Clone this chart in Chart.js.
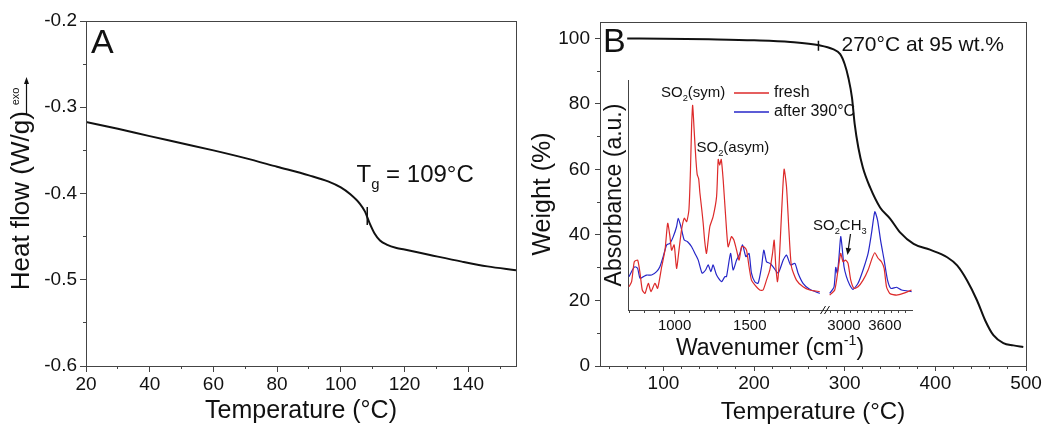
<!DOCTYPE html>
<html>
<head>
<meta charset="utf-8">
<title>DSC / TGA / FTIR</title>
<script src="https://cdn.jsdelivr.net/npm/chart.js@4.4.1/dist/chart.umd.min.js"></script>
<style>
  body { margin: 0; background: #fff; }
  #wrap { position: relative; width: 1047px; height: 427px; overflow: hidden; background: #fff; }
  canvas { position: absolute; }
  #dsc { left: 0; top: 0; }
  #tga { left: 520px; top: 0; }
  #ftir { left: 590px; top: 60px; }
</style>
</head>
<body>
<div id="wrap">
  <canvas id="dsc" width="525" height="427"></canvas>
  <canvas id="tga" width="527" height="427"></canvas>
  <canvas id="ftir" width="330" height="310"></canvas>
</div>
<script>
const FONT = 'Arial, "Liberation Sans", sans-serif';
const AXIS = '#444';
const INK = '#111';
const RED = '#dd2a2a';
const BLUE = '#2626c8';

// Panel A - DSC heat flow
const dscTemp = [20, 30, 40, 50, 60, 70, 80, 90, 96, 100, 103, 106, 107.6, 109, 110.7, 112.3, 114.4, 117.5, 120, 128, 138, 146, 155];
const dscFlow = [-0.317, -0.325, -0.3335, -0.3417, -0.350, -0.359, -0.369, -0.379, -0.386, -0.393, -0.401, -0.412, -0.421, -0.434, -0.447, -0.4545, -0.4592, -0.4632, -0.465, -0.4713, -0.479, -0.4845, -0.489];
const tgMarkTemp = [108.3, 108.3];
const tgMarkFlow = [-0.4157, -0.4365];
const dscXTicks = [20, 40, 60, 80, 100, 120, 140];
const dscXMinor = [30, 50, 70, 90, 110, 130, 150];
const dscYTicks = [-0.6, -0.5, -0.4, -0.3, -0.2];
const dscYMinor = [-0.55, -0.45, -0.35, -0.25];

// Panel B - TGA weight loss
const tgaTemp = [60, 100, 150, 200, 240, 272, 287, 295, 300, 304, 308, 311, 315, 320, 328, 339, 350, 361, 376, 394, 413, 424, 435, 446, 455, 464, 475, 486, 497];
const tgaWeight = [100, 99.9, 99.7, 99.4, 98.9, 97.9, 96.7, 95.2, 92.1, 88.0, 81.9, 73.8, 66.7, 60.6, 54.5, 48.4, 45.0, 40.8, 37.3, 35.5, 33.2, 30.7, 26.1, 20.0, 13.9, 9.4, 7.0, 6.3, 5.8];
const onsetMarkTemp = [271, 271];
const onsetMarkWeight = [99.3, 96.2];
const tgaXTicks = [100, 200, 300, 400, 500];
const tgaXMinor = [40, 60, 80, 120, 140, 160, 180, 220, 240, 260, 280, 320, 340, 360, 380, 420, 440, 460, 480];
const tgaYTicks = [0, 20, 40, 60, 80, 100];
const tgaYMinor = [10, 30, 50, 70, 90];

// Inset - FTIR spectra (two wavenumber windows)
const freshLowWn = [697, 714, 732, 754, 770, 785, 803, 825, 843, 869, 887, 914, 936, 954, 969, 980, 997, 1013, 1029, 1046, 1064, 1080, 1095, 1105, 1113, 1120, 1130, 1141, 1150, 1160, 1168, 1180, 1190, 1200, 1212, 1234, 1256, 1279, 1290, 1300, 1310, 1323, 1341, 1356, 1378, 1394, 1412, 1429, 1445, 1460, 1478, 1495, 1511, 1533, 1566, 1588, 1611, 1633, 1651, 1662, 1673, 1684, 1695, 1711, 1728, 1744, 1760, 1777, 1810, 1854, 1898, 1965];
const freshLowAbs = [10.1, 12.3, 21, 21.7, 16, 8.7, 7.2, 11.6, 8.0, 11.6, 9.4, 18.8, 26, 37.7, 31.9, 26, 28.3, 18.1, 26, 34.8, 39.9, 38.4, 43.5, 60, 80, 89, 78, 66, 59, 57, 51, 44, 37.7, 30, 24.6, 36.2, 40.6, 49.3, 65.5, 63, 65.5, 56.5, 39, 27.5, 31.9, 30.4, 26, 21.7, 27.5, 27.5, 26, 18.8, 13, 10.9, 8.7, 8.7, 13, 17.4, 24.6, 30.4, 18.8, 12.3, 20.3, 42, 61.2, 53.6, 34.8, 18.8, 13, 10.1, 8.7, 8.0];
const afterLowWn = [697, 719, 736, 754, 770, 792, 814, 847, 880, 902, 924, 947, 969, 991, 1013, 1024, 1042, 1064, 1086, 1113, 1135, 1157, 1183, 1206, 1223, 1241, 1256, 1279, 1312, 1334, 1345, 1372, 1389, 1412, 1434, 1452, 1474, 1495, 1511, 1533, 1555, 1578, 1593, 1611, 1633, 1655, 1688, 1722, 1744, 1771, 1800, 1821, 1854, 1898, 1965];
const afterLowAbs = [14.5, 17.4, 18.8, 18.1, 13.8, 14.5, 15.2, 15.2, 16.7, 18.8, 23.2, 28.3, 29, 31.9, 36.2, 39.9, 36.2, 30.4, 29.7, 27.5, 24.6, 21.7, 16, 17.4, 19.6, 16.7, 19.6, 15.2, 12.3, 14.5, 14.5, 24.6, 17.4, 21.7, 24.6, 28.3, 23.2, 24.6, 16, 12.3, 11.6, 18.8, 26, 21, 20.3, 18.8, 16, 21.7, 23.9, 19.6, 20.3, 16, 11.6, 9.0, 7.2];
const freshHighWn = [2789, 2863, 2912, 2951, 2985, 3021, 3059, 3099, 3147, 3206, 3280, 3354, 3413, 3453, 3501, 3551, 3590, 3625, 3674, 3773, 3870, 3994];
const freshHighAbs = [6.5, 8.7, 17.4, 24.6, 21, 21.7, 20.3, 13, 9.4, 10.1, 13, 17.4, 22.5, 24.9, 22.5, 21, 18.1, 10.1, 7.2, 6.5, 7.2, 8.7];
const afterHighWn = [2789, 2853, 2878, 2900, 2922, 2951, 2971, 3000, 3035, 3084, 3133, 3206, 3280, 3354, 3404, 3453, 3493, 3541, 3590, 3640, 3689, 3773, 3847, 3994];
const afterHighAbs = [7.2, 10.1, 18.5, 16, 21.7, 31.9, 27.5, 18.8, 14.5, 10.9, 9, 11.6, 17.4, 24.6, 33.3, 42.7, 39.1, 29.7, 21.7, 13, 9.4, 9.9, 8.7, 8.0];
const ftirLowTicks = [1000, 1500];
const ftirLowMinor = [700, 800, 900, 1100, 1200, 1300, 1400, 1600, 1700, 1800, 1900];
const ftirHighTicks = [3000, 3600];
const ftirHighMinor = [2800, 2900, 3100, 3200, 3300, 3400, 3500, 3700, 3800, 3900];

Chart.defaults.font.family = FONT;
Chart.defaults.color = INK;
Chart.defaults.animation = false;

function pts(xs, ys) {
  return xs.map((x, i) => ({x: x, y: ys[i]}));
}

function fixedTicks(list) {
  return axis => { axis.ticks = list.map(v => ({value: v})); };
}

function crisp(p) {
  return Math.round(p - 0.5) + 0.5;
}

// short outward ticks between the labelled ones
function minorTicks(sets, len) {
  return {
    id: 'minorTicks',
    afterDraw(chart) {
      const ctx = chart.ctx;
      ctx.save();
      ctx.strokeStyle = AXIS;
      ctx.lineWidth = 1;
      ctx.beginPath();
      for (const id in sets) {
        const s = chart.scales[id];
        sets[id].forEach(v => {
          const p = crisp(s.getPixelForValue(v));
          if (s.isHorizontal()) {
            ctx.moveTo(p, s.top);
            ctx.lineTo(p, s.top + len);
          } else {
            ctx.moveTo(s.right, p);
            ctx.lineTo(s.right - len, p);
          }
        });
      }
      ctx.stroke();
      ctx.restore();
    }
  };
}

// closed box round the plot area
const frame = {
  id: 'frame',
  afterDraw(chart) {
    const a = chart.chartArea, ctx = chart.ctx;
    ctx.save();
    ctx.strokeStyle = AXIS;
    ctx.lineWidth = 1;
    ctx.strokeRect(crisp(a.left), crisp(a.top), Math.round(a.right - a.left), Math.round(a.bottom - a.top));
    ctx.restore();
  }
};

// text with sub/superscripts: parts = [[text, 'sub'|'sup'|null], ...]
function richText(ctx, parts, x, y, size, align) {
  const small = size * 0.62;
  const widthOf = p => {
    ctx.font = (p[1] ? small : size) + 'px ' + FONT;
    return ctx.measureText(p[0]).width;
  };
  let total = 0;
  parts.forEach(p => { total += widthOf(p); });
  let cx = align === 'center' ? x - total / 2 : x;
  ctx.textAlign = 'left';
  ctx.textBaseline = 'alphabetic';
  parts.forEach(p => {
    const w = widthOf(p);
    const dy = p[1] === 'sub' ? size * 0.33 : p[1] === 'sup' ? -size * 0.42 : 0;
    ctx.fillText(p[0], cx, y + dy);
    cx += w;
  });
}

function arrow(ctx, x1, y1, x2, y2, head, width) {
  const a = Math.atan2(y2 - y1, x2 - x1);
  ctx.beginPath();
  ctx.moveTo(x1, y1);
  ctx.lineTo(x2 - Math.cos(a) * head * 0.8, y2 - Math.sin(a) * head * 0.8);
  ctx.stroke();
  ctx.beginPath();
  ctx.moveTo(x2, y2);
  ctx.lineTo(x2 - Math.cos(a) * head + Math.sin(a) * width, y2 - Math.sin(a) * head - Math.cos(a) * width);
  ctx.lineTo(x2 - Math.cos(a) * head - Math.sin(a) * width, y2 - Math.sin(a) * head + Math.cos(a) * width);
  ctx.closePath();
  ctx.fill();
}

function xAxis(opts) {
  return Object.assign({
    type: 'linear',
    position: 'bottom',
    ticks: {font: {size: 19}, color: INK, padding: 1, maxRotation: 0, autoSkip: false, callback: v => String(v)},
    grid: {drawOnChartArea: false, tickLength: 6, color: AXIS},
    border: {color: AXIS, width: 1}
  }, opts);
}

function yAxis(opts) {
  return Object.assign({
    type: 'linear',
    position: 'left',
    ticks: {font: {size: 19}, color: INK, padding: 3, autoSkip: false, callback: v => String(v)},
    grid: {drawOnChartArea: false, tickLength: 6, color: AXIS},
    border: {color: AXIS, width: 1}
  }, opts);
}

const quiet = {legend: {display: false}, tooltip: {enabled: false}};

// ---------- Panel A ----------
new Chart(document.getElementById('dsc'), {
  type: 'line',
  data: {
    datasets: [
      {data: pts(dscTemp, dscFlow), borderColor: INK, borderWidth: 2, pointRadius: 0, cubicInterpolationMode: 'monotone'},
      {data: pts(tgMarkTemp, tgMarkFlow), borderColor: INK, borderWidth: 1.5, pointRadius: 0}
    ]
  },
  options: {
    responsive: false,
    events: [],
    layout: {padding: {left: 0, top: 21, right: 9, bottom: 0}},
    plugins: quiet,
    scales: {
      x: xAxis({
        min: 20, max: 155,
        afterBuildTicks: fixedTicks(dscXTicks),
        title: {display: true, text: 'Temperature (°C)', font: {size: 25}, color: INK, padding: {top: 0, bottom: 1}},
        afterFit: s => { s.height = 61; }
      }),
      y: yAxis({
        min: -0.6, max: -0.2,
        afterBuildTicks: fixedTicks(dscYTicks),
        ticks: {font: {size: 19}, color: INK, padding: 3, autoSkip: false, callback: v => v.toFixed(1)},
        title: {display: true, text: 'Heat flow (W/g)  ', font: {size: 26}, color: INK, padding: {top: 6, bottom: 0}},
        afterFit: s => { s.width = 86; }
      })
    }
  },
  plugins: [frame, minorTicks({x: dscXMinor, y: dscYMinor}, 3), {
    id: 'notesA',
    afterDraw(chart) {
      const ctx = chart.ctx;
      ctx.save();
      ctx.fillStyle = INK;
      ctx.strokeStyle = INK;
      ctx.font = '34px ' + FONT;
      ctx.textBaseline = 'alphabetic';
      ctx.fillText('A', 91, 52.5);
      richText(ctx, [['T', null], ['g', 'sub'], [' = 109°C', null]], 356.5, 181.5, 24, 'left');
      // "exo" with upward arrow beside the axis title
      ctx.save();
      ctx.translate(16, 96.5);
      ctx.rotate(-Math.PI / 2);
      ctx.font = '11px ' + FONT;
      ctx.textAlign = 'center';
      ctx.textBaseline = 'middle';
      ctx.fillText('exo', 0, 0);
      ctx.restore();
      ctx.lineWidth = 1.2;
      arrow(ctx, 26.5, 115, 26.5, 77, 7, 2.5);
      ctx.restore();
    }
  }]
});

// ---------- Panel B ----------
new Chart(document.getElementById('tga'), {
  type: 'line',
  data: {
    datasets: [
      {data: pts(tgaTemp, tgaWeight), borderColor: INK, borderWidth: 2, pointRadius: 0, cubicInterpolationMode: 'monotone'},
      {data: pts(onsetMarkTemp, onsetMarkWeight), borderColor: INK, borderWidth: 1.5, pointRadius: 0}
    ]
  },
  options: {
    responsive: false,
    events: [],
    layout: {padding: {left: 0, top: 22, right: 21, bottom: 0}},
    plugins: quiet,
    scales: {
      x: xAxis({
        min: 30, max: 500,
        afterBuildTicks: fixedTicks(tgaXTicks),
        grid: {drawOnChartArea: false, tickLength: 5, color: AXIS},
        ticks: {font: {size: 19}, color: INK, padding: 1, maxRotation: 0, autoSkip: false, callback: v => String(v)},
        title: {display: true, text: 'Temperature (°C)', font: {size: 24}, color: INK, padding: {top: 0, bottom: 0}},
        afterFit: s => { s.height = 61; }
      }),
      y: yAxis({
        min: 0, max: 105,
        afterBuildTicks: fixedTicks(tgaYTicks),
        grid: {drawOnChartArea: false, tickLength: 5, color: AXIS},
        ticks: {font: {size: 19}, color: INK, padding: 5, autoSkip: false, callback: v => String(v)},
        title: {display: true, text: 'Weight (%)', font: {size: 25}, color: INK, padding: {top: 8, bottom: 0}},
        afterFit: s => { s.width = 80; }
      })
    }
  },
  plugins: [frame, minorTicks({x: tgaXMinor, y: tgaYMinor}, 3), {
    id: 'notesB',
    afterDraw(chart) {
      const ctx = chart.ctx;
      ctx.save();
      ctx.fillStyle = INK;
      ctx.textBaseline = 'alphabetic';
      ctx.font = '34px ' + FONT;
      ctx.fillText('B', 83, 51.5);
      ctx.font = '21px ' + FONT;
      ctx.fillText('270°C at 95 wt.%', 321.5, 50.5);
      ctx.restore();
    }
  }]
});

// ---------- Inset: FTIR ----------
const lineStyle = {borderWidth: 1.2, pointRadius: 0, tension: 0.2};
new Chart(document.getElementById('ftir'), {
  type: 'line',
  data: {
    datasets: [
      Object.assign({label: 'fresh', legend: true, data: pts(freshLowWn, freshLowAbs), xAxisID: 'xLow', borderColor: RED}, lineStyle),
      Object.assign({label: 'after 390°C', legend: true, data: pts(afterLowWn, afterLowAbs), xAxisID: 'xLow', borderColor: BLUE}, lineStyle),
      Object.assign({label: 'fresh', data: pts(freshHighWn, freshHighAbs), xAxisID: 'xHigh', borderColor: RED}, lineStyle),
      Object.assign({label: 'after 390°C', data: pts(afterHighWn, afterHighAbs), xAxisID: 'xHigh', borderColor: BLUE}, lineStyle)
    ]
  },
  options: {
    responsive: false,
    events: [],
    layout: {padding: {left: 0, top: 20, right: 8, bottom: 0}},
    plugins: quiet,
    scales: {
      xLow: xAxis({
        stack: 'wn', stackWeight: 197,
        min: 690, max: 2000,
        afterBuildTicks: fixedTicks(ftirLowTicks),
        grid: {drawOnChartArea: false, tickLength: 4, color: AXIS},
        ticks: {font: {size: 15}, color: INK, padding: 3, maxRotation: 0, autoSkip: false, callback: v => String(v)},
        afterFit: s => { s.height = 60; }
      }),
      xHigh: xAxis({
        stack: 'wn', stackWeight: 87,
        min: 2720, max: 4000,
        afterBuildTicks: fixedTicks(ftirHighTicks),
        grid: {drawOnChartArea: false, tickLength: 4, color: AXIS},
        ticks: {font: {size: 15}, color: INK, padding: 3, maxRotation: 0, autoSkip: false, callback: v => String(v)},
        afterFit: s => { s.height = 60; }
      }),
      y: yAxis({
        min: 0, max: 100,
        ticks: {display: false},
        grid: {display: false},
        title: {display: true, text: 'Absorbance (a.u.)', font: {size: 23}, color: INK, padding: {top: 11, bottom: 0}},
        afterFit: s => { s.width = 38; }
      })
    }
  },
  plugins: [minorTicks({xLow: ftirLowMinor, xHigh: ftirHighMinor}, 3), {
    id: 'notesInset',
    afterDraw(chart) {
      const ctx = chart.ctx;
      const a = chart.chartArea;
      const lo = chart.scales.xLow;
      ctx.save();
      ctx.fillStyle = INK;
      ctx.strokeStyle = INK;

      // axis break marks
      ctx.lineWidth = 1;
      const bx = lo.right;
      [-2, 2].forEach(d => {
        ctx.beginPath();
        ctx.moveTo(bx + d - 2.5, a.bottom + 4);
        ctx.lineTo(bx + d + 2.5, a.bottom - 4);
        ctx.stroke();
      });

      // x title with superscript
      richText(ctx, [['Wavenumer (cm', null], ['-1', 'sup'], [')', null]], (a.left + a.right) / 2, 295, 23, 'center');

      // peak labels
      richText(ctx, [['SO', null], ['2', 'sub'], ['(sym)', null]], 71, 36.5, 15, 'left');
      richText(ctx, [['SO', null], ['2', 'sub'], ['(asym)', null]], 106.5, 91.5, 15, 'left');
      richText(ctx, [['SO', null], ['2', 'sub'], ['CH', null], ['3', 'sub']], 223, 169.5, 15, 'left');
      ctx.lineWidth = 1.2;
      arrow(ctx, 260.5, 174, 257.5, 195, 7, 2.8);

      // legend
      let y = 33;
      chart.data.datasets.filter(d => d.legend).forEach(d => {
        ctx.strokeStyle = d.borderColor;
        ctx.lineWidth = 1.5;
        ctx.beginPath();
        ctx.moveTo(144, y);
        ctx.lineTo(179, y);
        ctx.stroke();
        ctx.fillStyle = INK;
        ctx.font = '16px ' + FONT;
        ctx.textAlign = 'left';
        ctx.textBaseline = 'middle';
        ctx.fillText(d.label, 184, y);
        y += 19;
      });
      ctx.restore();
    }
  }]
});
</script>
</body>
</html>
